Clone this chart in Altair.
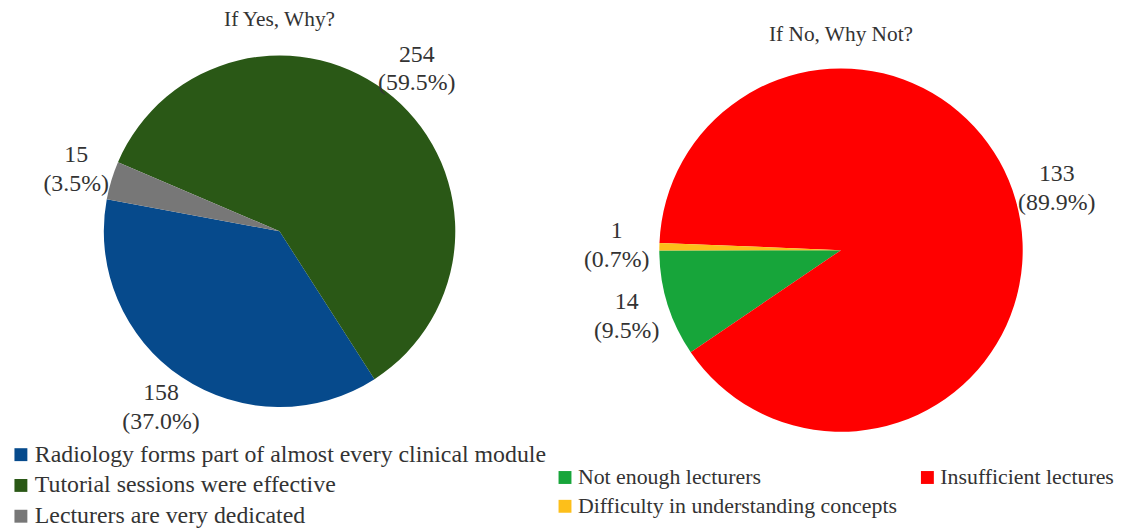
import math
import altair as alt
import pandas as pd

# ---- data ----
yes_labels = ["Radiology forms part of almost every clinical module",
              "Tutorial sessions were effective",
              "Lecturers are very dedicated"]
yes_counts = [158, 254, 15]
yes_pct = ["37.0", "59.5", "3.5"]
yes_order = [0, 2, 1]          # drawing order around the pie
yes_colors = ["#064a8c", "#2a5816", "#777777"]

no_labels = ["Not enough lecturers", "Insufficient lectures",
             "Difficulty in understanding concepts"]
no_counts = [14, 133, 1]
no_pct = ["9.5", "89.9", "0.7"]
no_order = [0, 2, 1]
no_colors = ["#17a53a", "#ff0000", "#fdbf1a"]

yes_title = "If Yes, Why?"
no_title = "If No, Why Not?"

FONT = "Liberation Serif, Times New Roman, DejaVu Serif, serif"
LINE_H = 29

yes_df = pd.DataFrame({"label": yes_labels, "count": yes_counts, "pct": yes_pct, "ord": yes_order})
yes_df["text"] = yes_df["count"].astype(str) + "\n(" + yes_df["pct"] + "%)"
no_df = pd.DataFrame({"label": no_labels, "count": no_counts, "pct": no_pct, "ord": no_order})
no_df["text"] = no_df["count"].astype(str) + "\n(" + no_df["pct"] + "%)"


def pie(df, labels, colors, start_deg, cx, cy, r, label_r, legend_x, legend_y, columns,
        legend_fs, row_pad, col_pad, title, ty):
    start = math.radians(start_deg)
    theta = alt.Theta("count:Q", stack=True,
                      scale=alt.Scale(range=[start, start + 2 * math.pi]))
    color = alt.Color("label:N", scale=alt.Scale(domain=labels, range=colors),
                      legend=alt.Legend(title=None, orient="none", legendX=legend_x, legendY=legend_y,
                                        columns=columns, direction="horizontal",
                                        symbolType="square", symbolSize=169,
                                        labelFont=FONT, labelFontSize=legend_fs, labelColor="#333333",
                                        labelOffset=2, padding=0,
                                        rowPadding=row_pad, columnPadding=col_pad, labelLimit=700,
                                        symbolStrokeWidth=0))
    base = alt.Chart(df).encode(theta=theta, order=alt.Order("ord:Q"))
    arc = base.mark_arc(stroke=None).encode(color=color, x=alt.value(cx), y=alt.value(cy),
                                            radius=alt.value(r))
    txt = base.mark_text(font=FONT, fontSize=24, lineHeight=LINE_H, dy=-LINE_H / 2,
                         color="#333333", lineBreak="\n",
                         align="center", baseline="middle").encode(
        text="text:N", x=alt.value(cx), y=alt.value(cy), radius=alt.value(label_r))
    ttl = alt.Chart(pd.DataFrame({"t": [title]})).mark_text(
        font=FONT, fontSize=21.5, color="#333333").encode(
        text="t:N", x=alt.value(cx), y=alt.value(ty))
    return alt.layer(arc, txt, ttl)


left = pie(yes_df, yes_labels, yes_colors, 147.3, 273.5, 223, 177, 214,
           1, 436, 1, 24, 7, 10, yes_title, 10)
right = pie(no_df, no_labels, no_colors, 235.8, 839, 242, 183, 226,
            550, 460, 2, 22, 7, 19, no_title, 25)

chart = alt.layer(left, right).resolve_scale(theta="independent", color="independent").properties(
    width=1121, height=521, autosize=alt.AutoSizeParams(type="none"), padding=0
).configure(font=FONT).configure_view(stroke=None)

chart.save("out.html", embed_options={"renderer": "svg", "actions": False})
